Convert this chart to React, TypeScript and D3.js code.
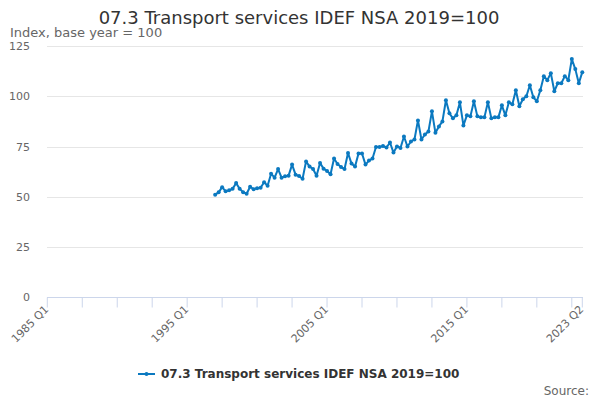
import React from "react";
import * as d3 from "d3";

// quarterly categories 1985 Q1 .. 2023 Q2
const firstYear = 1985;
const lastYear = 2023;
const lastQuarter = 2;
const categories: string[] = [];
for (let y = firstYear; y <= lastYear; y++) {
  for (let q = 1; q <= 4; q++) {
    if (y === lastYear && q > lastQuarter) break;
    categories.push(`${y} Q${q}`);
  }
}

// series starts at 1997 Q1
const seriesStart = "1997 Q1";
const seriesName = "07.3 Transport services IDEF NSA 2019=100";
const values: number[] = [
  51, 52.2, 54.8, 52.7, 53.2, 54, 56.8, 54, 52.3, 51.5, 55, 53.8, 54.2, 54.5, 57.2, 55.5,
  61.5, 59.5, 63.8, 59.5, 60.2, 60.5, 66, 61, 60.3, 59, 67.6, 65, 63.8, 60.5, 66.8, 64,
  62.8, 61.2, 69, 66.3, 64.8, 63.8, 71.8, 66.5, 65, 71.5, 71.5, 66, 68, 69, 74.8, 74.8,
  75.2, 74.5, 77, 72, 75, 74.3, 80, 75, 77.5, 78.5, 88, 78.5, 81, 82.5, 92.5, 81.8,
  85, 87.5, 98, 91.5, 89, 90.5, 97, 85.5, 90.5, 90, 97.5, 90, 89.5, 89.5, 97, 89,
  89.5, 89.5, 95.5, 90.5, 97, 96, 103, 95, 98.5, 100, 105.5, 99.5, 97.5, 103, 110, 108,
  111.5, 102.5, 106.5, 106.5, 110, 108, 118.5, 113.5, 106.5, 112,
];

const yTicks = [0, 25, 50, 75, 100, 125];
const xTickEvery = 10;
const xLabels = ["1985 Q1", "1995 Q1", "2005 Q1", "2015 Q1", "2023 Q2"];

const W = 600;
const H = 400;
const color = "#0b79c0";
const font = "'DejaVu Sans', Verdana, sans-serif";

export default function App() {
  const x = d3.scalePoint<string>().domain(categories).range([47.3, 582.3]);
  const y = d3.scaleLinear().domain([0, 125]).range([297.3, 46]);

  const startIdx = categories.indexOf(seriesStart);
  const points = values.map((v, i) => ({ c: categories[startIdx + i], v }));

  const line = d3
    .line<{ c: string; v: number }>()
    .x((d) => x(d.c) ?? 0)
    .y((d) => y(d.v));

  const tickCats = categories.filter((_, i) => i % xTickEvery === 0 || i === categories.length - 1);

  return (
    <svg
      width={W}
      height={H}
      style={{ position: "absolute", left: 0, top: 0, fontFamily: font }}
    >
      <rect width={W} height={H} fill="#fff" />
      <text x={299} y={24} textAnchor="middle" fontSize={18} fill="#333">
        {seriesName}
      </text>
      <text x={10} y={37} fontSize={13} fill="#666">
        Index, base year = 100
      </text>

      {/* grid + y labels */}
      {yTicks.map((t) => (
        <g key={t}>
          {t > 0 && (
            <line x1={47} x2={583} y1={Math.round(y(t)) + 0.5} y2={Math.round(y(t)) + 0.5} stroke="#e6e6e6" />
          )}
          <text x={30} y={y(t) + 4} textAnchor="end" fontSize={11} fill="#666">
            {t}
          </text>
        </g>
      ))}

      {/* x axis */}
      <line x1={47} x2={583} y1={297.5} y2={297.5} stroke="#ccd6eb" />
      {tickCats.map((c) => (
        <line key={c} x1={x(c)} x2={x(c)} y1={297.5} y2={307.5} stroke="#ccd6eb" />
      ))}
      {xLabels.map((c) => (
        <text
          key={c}
          transform={`translate(${(x(c) ?? 0) + 2},${310}) rotate(-45)`}
          textAnchor="end"
          fontSize={11}
          fill="#666"
        >
          {c}
        </text>
      ))}

      {/* series */}
      <path d={line(points) ?? ""} fill="none" stroke={color} strokeWidth={2} strokeLinejoin="round" />
      {points.map((p) => (
        <circle key={p.c} cx={x(p.c)} cy={y(p.v)} r={2} fill={color} />
      ))}

      {/* legend */}
      <line x1={138} x2={155} y1={374} y2={374} stroke={color} strokeWidth={2} />
      <circle cx={146.5} cy={374} r={2} fill={color} />
      <text x={161} y={378} fontSize={12} fontWeight="bold" fill="#333">
        {seriesName}
      </text>
      <text x={589} y={395} textAnchor="end" fontSize={12} fill="#666">
        Source:
      </text>
    </svg>
  );
}
